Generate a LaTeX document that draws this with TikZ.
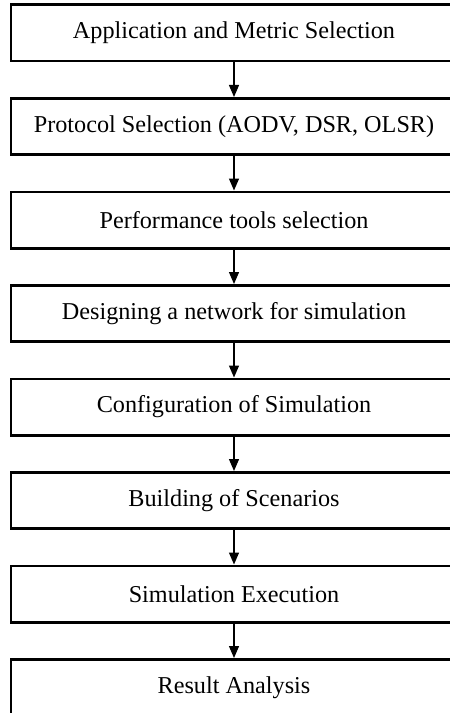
\documentclass[tikz,border=0pt]{standalone}
\usepackage{fontspec}
\setmainfont{Liberation Serif}
\usetikzlibrary{positioning, arrows.meta}
\tikzstyle{stage} = [draw, rectangle, line width=2.6bp, minimum width=446bp,
   minimum height=56.4bp, inner sep=0pt, font=\fontsize{24.3}{28}\selectfont]
\tikzstyle{flow} = [line width=1.3bp, -{Triangle[width=10bp,length=12bp]}]

\begin{document}
\begin{tikzpicture}[x=1bp, y=1bp, node distance=34.5bp]
  \useasboundingbox (0,0) rectangle (450,-713);
  \clip (0,0) rectangle (450,-713); % boxes run past the right and bottom edge

  \node[stage] (app) at (234,-33) {Application and Metric Selection};
  \node[stage, below=of app] (proto) {Protocol Selection (AODV, DSR, OLSR)};
  \node[stage, below=of proto] (tools) {Performance tools selection};
  \node[stage, below=of tools] (design) {Designing a network for simulation};
  \node[stage, below=of design] (config) {Configuration of Simulation};
  \node[stage, below=of config] (scen) {Building of Scenarios};
  \node[stage, below=of scen] (exec) {Simulation Execution};
  \node[stage, below=of exec] (result) {Result Analysis};

  % arrows between the stages
  \draw[flow] (app) -- (proto);
  \draw[flow] (proto) -- (tools);
  \draw[flow] (tools) -- (design);
  \draw[flow] (design) -- (config);
  \draw[flow] (config) -- (scen);
  \draw[flow] (scen) -- (exec);
  \draw[flow] (exec) -- (result);
\end{tikzpicture}
\end{document}
